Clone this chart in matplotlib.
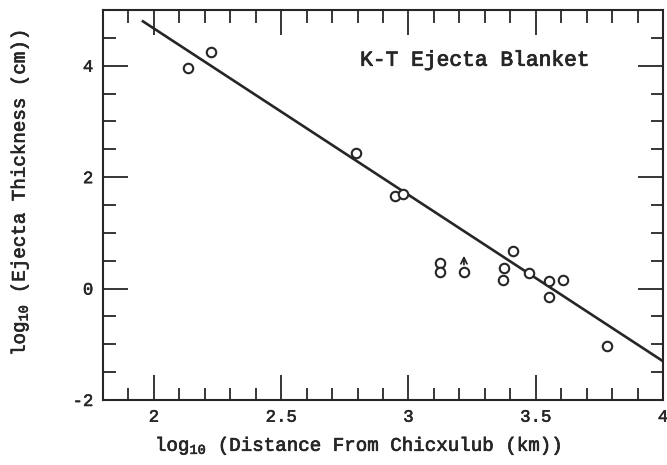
import matplotlib.pyplot as plt
import matplotlib.patheffects as pe
import numpy as np
from matplotlib.ticker import MultipleLocator

# log10 distance from Chicxulub (km) and log10 ejecta thickness (cm)
log_dist = [2.134, 2.224, 2.794, 2.947, 2.977, 3.124, 3.124, 3.218,
            3.376, 3.372, 3.411, 3.474, 3.552, 3.552, 3.607, 3.780]
log_thick = [3.96, 4.245, 2.43, 1.67, 1.70, 0.46, 0.29, 0.30,
             0.37, 0.16, 0.67, 0.28, 0.14, -0.16, 0.16, -1.03]

# sample that is a lower bound (arrow up)
lower_x = [3.218]
lower_y = [0.30]

# fitted power law: log T = a + b log D
fit_a = 10.64
fit_b = -2.986
fit_range = [1.957, 4.0]

xticks = [2, 2.5, 3, 3.5, 4]
xtick_labels = ['2', '2.5', '3', '3.5', '4']
yticks = [-2, 0, 2, 4]
ytick_labels = ['-2', '0', '2', '4']

plt.rcParams['font.family'] = ['Liberation Mono', 'DejaVu Sans Mono', 'DejaVu Sans']
plt.rcParams['mathtext.fontset'] = 'custom'
plt.rcParams['mathtext.rm'] = 'Liberation Mono'
plt.rcParams['mathtext.default'] = 'rm'
ink = '#262626'
# slightly heavier strokes on the thin monospace glyphs
thick = [pe.withStroke(linewidth=0.5, foreground=ink)]

fig = plt.figure(figsize=(6.67, 4.65), dpi=100)
ax = fig.add_axes([0.1544, 0.1398, 0.8396, 0.8387])

xf = np.array(fit_range)
ax.plot(xf, fit_a + fit_b * xf, color=ink, lw=1.9)
ax.plot(log_dist, log_thick, 'o', mfc='white', mec=ink, ms=6.8, mew=1.5, ls='none')
for x, y in zip(lower_x, lower_y):
    ax.annotate('', xy=(x, y + 0.34), xytext=(x, y + 0.08),
                arrowprops=dict(arrowstyle='->', color=ink, lw=1.3, mutation_scale=11))

ax.text(2.81, 4.0, 'K-T Ejecta Blanket', fontsize=15.3, color=ink, va='baseline',
        path_effects=[pe.withStroke(linewidth=0.6, foreground=ink)])

ax.set_xlim(1.8, 4.0)
ax.set_ylim(-2, 5)
ax.xaxis.set_minor_locator(MultipleLocator(0.1))
ax.yaxis.set_minor_locator(MultipleLocator(0.5))
ax.set_xticks(xticks)
ax.set_xticklabels(xtick_labels)
ax.set_yticks(yticks)
ax.set_yticklabels(ytick_labels)
ax.tick_params(which='both', direction='in', top=True, right=True, color=ink,
               labelcolor=ink, labelsize=12.5, width=1.3)
ax.tick_params(which='major', length=18, pad=7)
ax.tick_params(which='minor', length=9)
for s in ax.spines.values():
    s.set_linewidth(1.5)
    s.set_color(ink)
for lab in ax.get_xticklabels() + ax.get_yticklabels():
    lab.set_path_effects([pe.withStroke(linewidth=0.4, foreground=ink)])

ax.set_xlabel('log$_{10}$ (Distance From Chicxulub (km))', fontsize=13.8, color=ink,
              path_effects=thick)
ax.set_ylabel('log$_{10}$ (Ejecta Thickness (cm))', fontsize=13.8, color=ink,
              path_effects=thick)
ax.xaxis.set_label_coords(0.455, -0.092)
ax.yaxis.set_label_coords(-0.129, 0.53)

fig.savefig('out.png', dpi=100)
